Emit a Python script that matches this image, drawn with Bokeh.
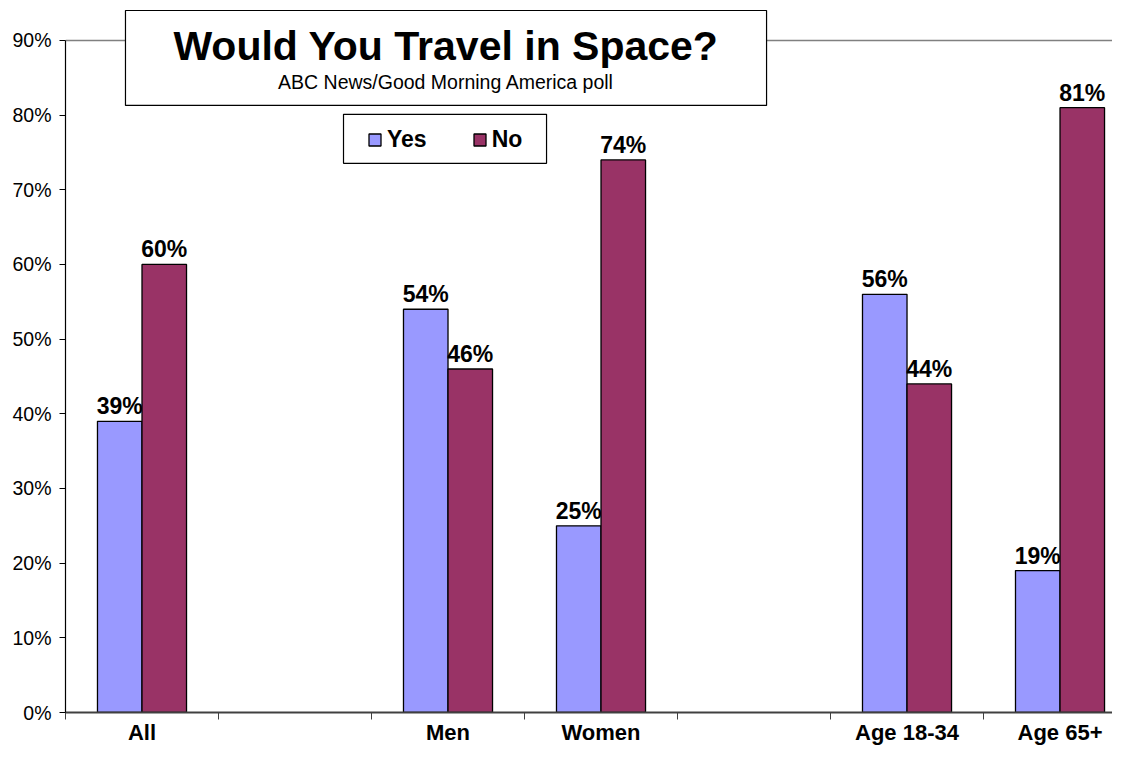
from bokeh.plotting import figure
from bokeh.models import (Range1d, FixedTicker, PrintfTickFormatter, Legend,
                          LegendItem, ColumnDataSource)
from bokeh.core.properties import value
from bokeh.embed import file_html
from bokeh.resources import INLINE

# ---- data ----
categories = ["All", "", "Men", "Women", "", "Age 18-34", "Age 65+"]
yes_values = [39, None, 54, 25, None, 56, 19]
no_values = [60, None, 46, 74, None, 44, 81]
series_names = ["Yes", "No"]
series_colors = ["#9999FF", "#993366"]
y_ticks = [0, 10, 20, 30, 40, 50, 60, 70, 80, 90]
title_text = "Would You Travel in Space?"
subtitle_text = "ABC News/Good Morning America poll"

FONT = "Liberation Sans"
BAR_W = 0.291

slots = [i for i, c in enumerate(categories) if c]

p = figure(width=1112, height=747,
           x_range=Range1d(-0.5, 6.343), y_range=Range1d(0, 95.349),
           output_backend="svg", toolbar_location=None,
           min_border_left=65, min_border_right=0, min_border_top=0,
           min_border_bottom=34)
p.outline_line_color = None
p.xgrid.visible = False

# single gray line at the top (90%)
p.ygrid.ticker = FixedTicker(ticks=[90])
p.ygrid.grid_line_color = "#808080"
p.ygrid.grid_line_width = 1.5

renderers = []
for k, (name, vals, col) in enumerate(zip(series_names, [yes_values, no_values], series_colors)):
    off = (-0.5 + k) * BAR_W
    xs = [i + off for i in slots]
    vs = [vals[i] for i in slots]
    src = ColumnDataSource(dict(x=xs, top=vs, lab=[f"{v}%" for v in vs]))
    r = p.vbar(x="x", top="top", bottom=0, width=BAR_W, source=src,
               fill_color=col, line_color="black", line_width=1.3)
    renderers.append(r)
    p.text(x="x", y="top", text="lab", source=src, text_align="center",
           text_baseline="alphabetic", y_offset=-15,
           text_font=value(FONT), text_font_style="bold",
           text_font_size="23px", text_color="black")

# title box
p.quad(left=[-0.108], right=[4.082], top=[94.01], bottom=[81.30],
       fill_color="white", line_color="black", line_width=1.2)
p.text(x=[1.987], y=[89.3], text=[title_text], text_align="center",
       text_baseline="middle", text_font=value(FONT), text_font_style="bold",
       text_font_size="41px", text_color="black")
p.text(x=[1.987], y=[84.4], text=[subtitle_text], text_align="center",
       text_baseline="middle", text_font=value(FONT),
       text_font_size="19.5px", text_color="black")

# legend box
p.quad(left=[1.317], right=[2.644], top=[80.10], bottom=[73.55],
       fill_color="white", line_color="black", line_width=1.2)

legend = Legend(items=[LegendItem(label=n, renderers=[r]) for n, r in zip(series_names, renderers)],
                location=(302, 559), orientation="horizontal",
                glyph_width=15, glyph_height=15, label_standoff=5, spacing=45,
                padding=0, margin=0, border_line_color=None,
                background_fill_alpha=0,
                label_text_font=FONT, label_text_font_style="bold",
                label_text_font_size="23px", label_text_color="black")
p.add_layout(legend)

# y axis
p.yaxis.ticker = FixedTicker(ticks=y_ticks)
p.yaxis.formatter = PrintfTickFormatter(format="%d%%")
p.yaxis.bounds = (0, 90)
p.yaxis.axis_line_color = "black"
p.yaxis.axis_line_width = 1.2
p.yaxis.major_tick_out = 6
p.yaxis.major_tick_in = 0
p.yaxis.minor_tick_out = 0
p.yaxis.minor_tick_in = 0
p.yaxis.major_tick_line_color = "black"
p.yaxis.major_label_standoff = 8
p.yaxis.major_label_text_font = FONT
p.yaxis.major_label_text_font_size = "19.5px"
p.yaxis.major_label_text_color = "black"

# x axis
p.xaxis.ticker = FixedTicker(ticks=slots, minor_ticks=[i - 0.5 for i in range(len(categories) + 1)])
p.xaxis.major_label_overrides = {i: categories[i] for i in slots}
p.xaxis.axis_line_color = "#404040"
p.xaxis.axis_line_width = 2
p.xaxis.major_tick_out = 0
p.xaxis.major_tick_in = 0
p.xaxis.minor_tick_out = 7
p.xaxis.minor_tick_in = 0
p.xaxis.minor_tick_line_color = "#404040"
p.xaxis.major_label_standoff = 0
p.xaxis.major_label_text_font = FONT
p.xaxis.major_label_text_font_style = "bold"
p.xaxis.major_label_text_font_size = "22px"
p.xaxis.major_label_text_color = "black"

open("out.html", "w").write(file_html(p, INLINE))
